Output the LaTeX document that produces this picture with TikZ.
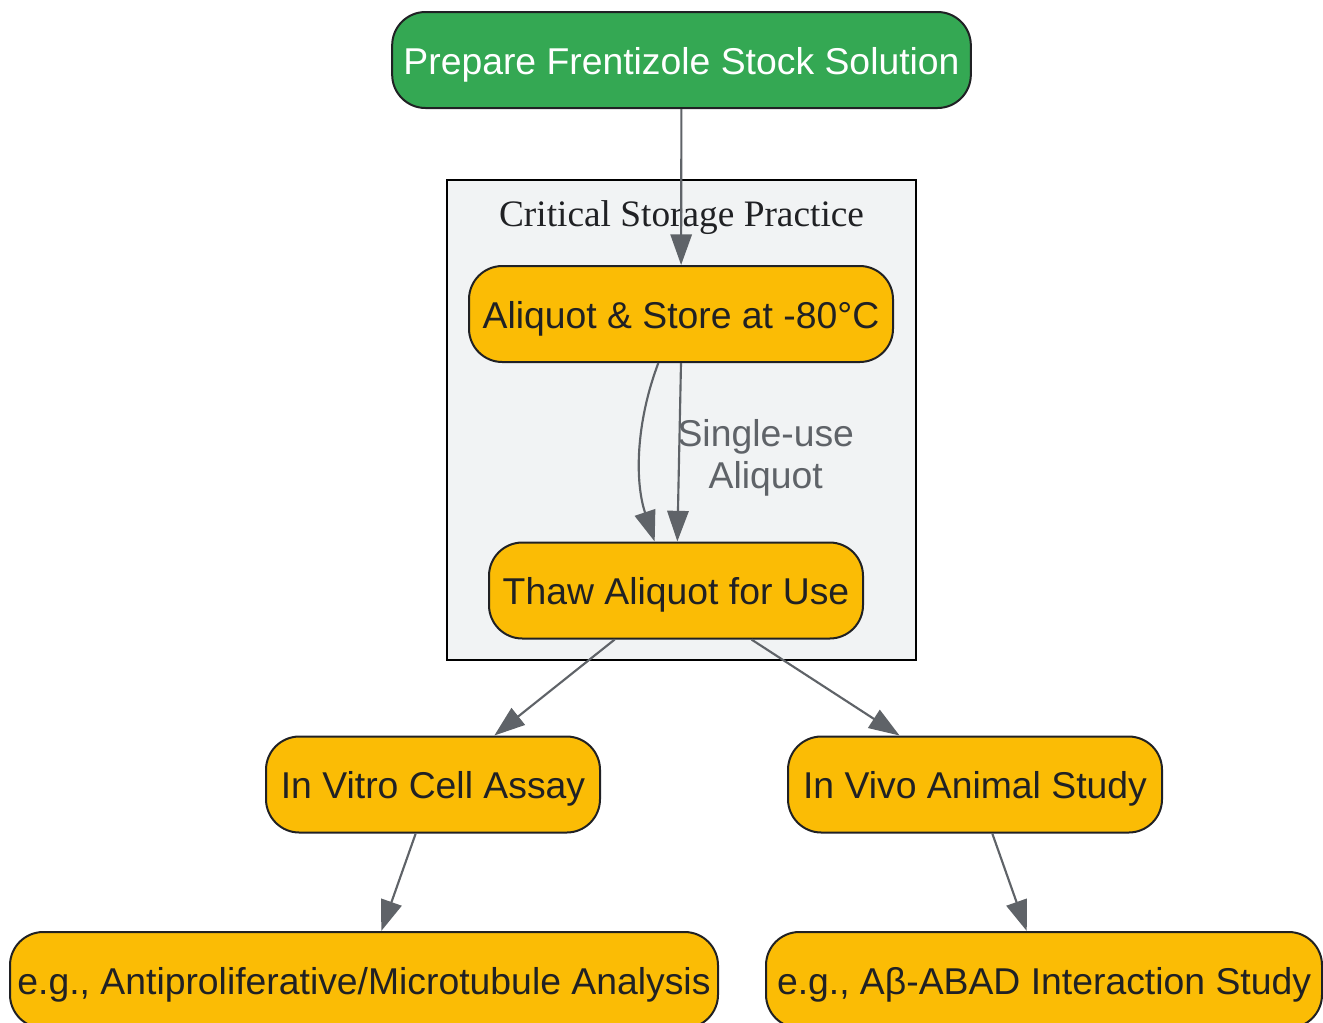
\documentclass[tikz,border=0pt]{standalone}
\usepackage{fontspec}
\setmainfont{Liberation Sans}
\newfontfamily\clusterfont{Liberation Serif}
\usetikzlibrary{arrows.meta}
\definecolor{gGreen}{HTML}{34A853}
\definecolor{gYellow}{HTML}{FBBC05}
\definecolor{gGray}{HTML}{5F6368}
\definecolor{gInk}{HTML}{202124}
\definecolor{gPanel}{HTML}{F1F3F4}

\begin{document}
\begin{tikzpicture}[x=0.75pt, y=-0.75pt,
        box/.style={draw=gInk, line width=1.5pt, rounded corners=25pt, fill=gYellow, text=gInk,
            minimum height=72pt, inner xsep=0pt, font=\fontsize{28}{33.6}\selectfont,
            text height=26.6pt, text depth=5.6pt},
        edge/.style={draw=gGray, line width=1.6pt, -{Triangle[length=23pt,width=16pt]}}]
    \useasboundingbox (0,0) rectangle (1323,1022);
    \draw[fill=gPanel, line width=1.5pt] (447,180) rectangle (916,660);
    \node[anchor=base, text=gInk, font=\clusterfont\fontsize{28}{33.6}\selectfont] (title) at (681.5,226) {Critical Storage Practice};

    \node[box, fill=gGreen, text=white, minimum width=434pt] (prep) at (681.5,60) {Prepare Frentizole Stock Solution};
    \node[box, minimum width=318pt] (store) at (681,314) {Aliquot \& Store at -80°C};
    \node[box, minimum width=280.5pt] (thaw) at (676,590.5) {Thaw Aliquot for Use};
    \node[box, minimum width=250.5pt] (vitro) at (433,784.5) {In Vitro Cell Assay};
    \node[box, minimum width=280.5pt] (vivo) at (975,784.5) {In Vivo Animal Study};
    \node[box, minimum width=531pt] (anti) at (364,980) {e.g., Antiproliferative/Microtubule Analysis};
    \node[box, minimum width=417pt] (abad) at (1044,980) {e.g., Aβ-ABAD Interaction Study};

    \draw[edge] (prep) -- (store);
    \draw[edge] ([xshift=-17pt]store.south) .. controls +(-17pt,-45pt) and +(-15pt,45pt) .. ([xshift=-16pt]thaw.north);
    \draw[edge] (store.south) -- ([xshift=1pt]thaw.north)
        node[midway, anchor=west, inner sep=0pt, xshift=-2pt, yshift=-4.5pt, text=gGray, align=center, font=\fontsize{28}{31.5}\selectfont] {Single-use\\Aliquot};
    \draw[edge] (thaw) -- (vitro);
    \draw[edge] (thaw) -- (vivo);
    \draw[edge] (vitro) -- (anti);
    \draw[edge] (vivo) -- (abad);
\end{tikzpicture}
\end{document}
